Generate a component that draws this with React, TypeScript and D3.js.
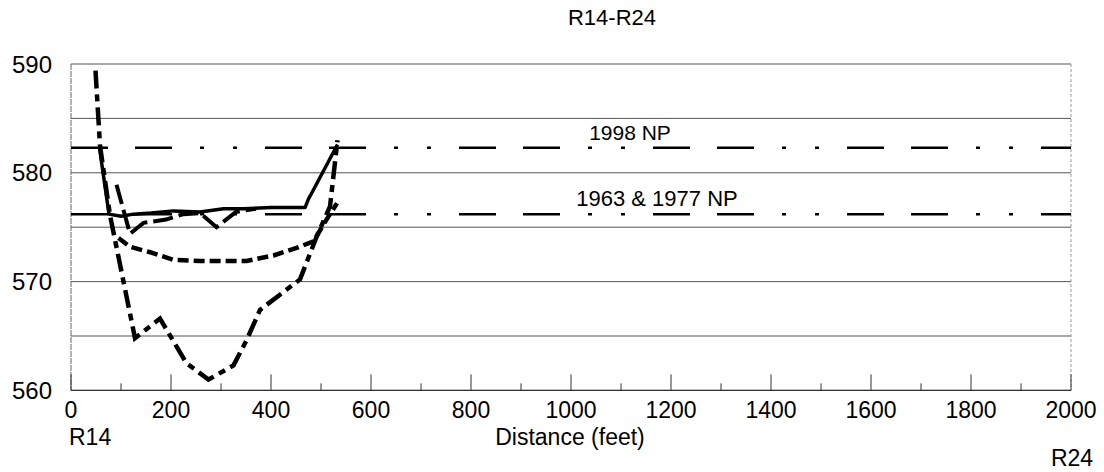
import React from "react";
import * as d3 from "d3";

// Channel cross-section profiles, R14 to R24
const profileSolidX = [57, 76, 100, 125, 160, 205, 258, 305, 345, 400, 468, 475, 481, 533];
const profileSolidY = [582.3, 576.2, 576.0, 576.2, 576.3, 576.5, 576.4, 576.7, 576.7, 576.8, 576.8, 577.6, 578.1, 582.6];

const profileLongDashX = [91, 118, 145, 190, 225, 258, 291, 330, 370];
const profileLongDashY = [578.9, 574.4, 575.4, 575.7, 576.2, 576.3, 575.0, 576.4, 576.7];

const profileShortDashX = [95, 118, 158, 205, 258, 351, 405, 451, 485, 511, 532];
const profileShortDashY = [574.0, 573.2, 572.7, 572.0, 571.9, 571.9, 572.4, 573.1, 573.7, 575.7, 577.2];

const profileDashDotX = [49, 58, 78, 128, 178, 231, 275, 325, 351, 378, 458, 491, 518, 533];
const profileDashDotY = [589.4, 582.5, 576.1, 564.8, 566.6, 562.5, 561.0, 562.3, 564.6, 567.4, 570.2, 574.1, 576.9, 583.0];

// Normal pool elevations
const poolLevels = [582.3, 576.2];
const poolLabels = ["1998 NP", "1963 & 1977 NP"];

const xTicks = d3.range(0, 2001, 200);
const xMinorTicks = d3.range(100, 2000, 200);
const yLabelTicks = [560, 570, 580, 590];
const yGridTicks = d3.range(560, 591, 5);

const FONT = "'Liberation Sans', Arial, sans-serif";

export default function App() {
  const width = 1104;
  const height = 472;
  const x = d3.scaleLinear().domain([0, 2000]).range([71, 1071]);
  const y = d3.scaleLinear().domain([560, 590]).range([390.4, 64]);

  const line = d3
    .line<[number, number]>()
    .x((d) => x(d[0]))
    .y((d) => y(d[1]));

  const zip = (xs: number[], ys: number[]) => xs.map((v, i) => [v, ys[i]] as [number, number]);

  const [x0, x1] = x.range();
  const [yBottom, yTop] = y.range();

  return (
    <svg
      width={width}
      height={height}
      style={{ position: "absolute", left: 0, top: 0, background: "#fff" }}
    >
      <rect width={width} height={height} fill="#fff" />
      {/* horizontal grid */}
      {yGridTicks.map((t) => (
        <line key={t} x1={x0} x2={x1} y1={y(t)} y2={y(t)} stroke="#555" strokeWidth={1} />
      ))}
      {/* axes frame */}
      <line x1={x0} x2={x0} y1={yTop} y2={yBottom} stroke="#666" strokeWidth={1} strokeDasharray="6,1" />
      <line x1={x1} x2={x1} y1={yTop} y2={yBottom} stroke="#999" strokeWidth={1} strokeDasharray="3,2" />
      <line x1={x0} x2={x1} y1={yBottom} y2={yBottom} stroke="#333" strokeWidth={1.2} />
      {xTicks.map((t) => (
        <line key={"M" + t} x1={x(t)} x2={x(t)} y1={yBottom} y2={yBottom - 16} stroke="#333" strokeWidth={1} />
      ))}
      {xMinorTicks.map((t) => (
        <line key={"m" + t} x1={x(t)} x2={x(t)} y1={yBottom} y2={yBottom - 7} stroke="#333" strokeWidth={1} />
      ))}

      {/* normal pool lines */}
      {poolLevels.map((p) => (
        <line
          key={p}
          x1={x0}
          x2={x1}
          y1={y(p)}
          y2={y(p)}
          stroke="#000"
          strokeWidth={2.5}
          strokeDasharray="37,27,37,28,4,29,4,28"
        />
      ))}

      {/* profiles */}
      <path d={line(zip(profileSolidX, profileSolidY)) || ""} fill="none" stroke="#000" strokeWidth={3.5} strokeLinejoin="round" />
      <path d={line(zip(profileLongDashX, profileLongDashY)) || ""} fill="none" stroke="#000" strokeWidth={4} strokeDasharray="20,6" />
      <path d={line(zip(profileShortDashX, profileShortDashY)) || ""} fill="none" stroke="#000" strokeWidth={4.5} strokeDasharray="11,5" />
      <path d={line(zip(profileDashDotX, profileDashDotY)) || ""} fill="none" stroke="#000" strokeWidth={4.5} strokeDasharray="18,6,7,6" />

      {/* pool labels */}
      <text x={630} y={y(poolLevels[0]) - 8} textAnchor="middle" fontFamily={FONT} fontSize={21} fill="#000">
        {poolLabels[0]}
      </text>
      <text x={657} y={y(poolLevels[1]) - 8} textAnchor="middle" fontFamily={FONT} fontSize={22} fill="#000">
        {poolLabels[1]}
      </text>

      {/* tick labels */}
      {yLabelTicks.map((t) => (
        <text key={t} x={52} y={y(t) + 8.5} textAnchor="end" fontFamily={FONT} fontSize={24} fill="#000">
          {t}
        </text>
      ))}
      {xTicks.map((t) => (
        <text key={t} x={x(t)} y={418} textAnchor="middle" fontFamily={FONT} fontSize={23} fill="#000">
          {t}
        </text>
      ))}

      <text x={612} y={25} textAnchor="middle" fontFamily={FONT} fontSize={22} fill="#000">
        R14-R24
      </text>
      <text x={69} y={445} textAnchor="start" fontFamily={FONT} fontSize={23} fill="#000">
        R14
      </text>
      <text x={570} y={445} textAnchor="middle" fontFamily={FONT} fontSize={23} fill="#000">
        Distance (feet)
      </text>
      <text x={1072} y={466} textAnchor="middle" fontFamily={FONT} fontSize={23} fill="#000">
        R24
      </text>
    </svg>
  );
}
